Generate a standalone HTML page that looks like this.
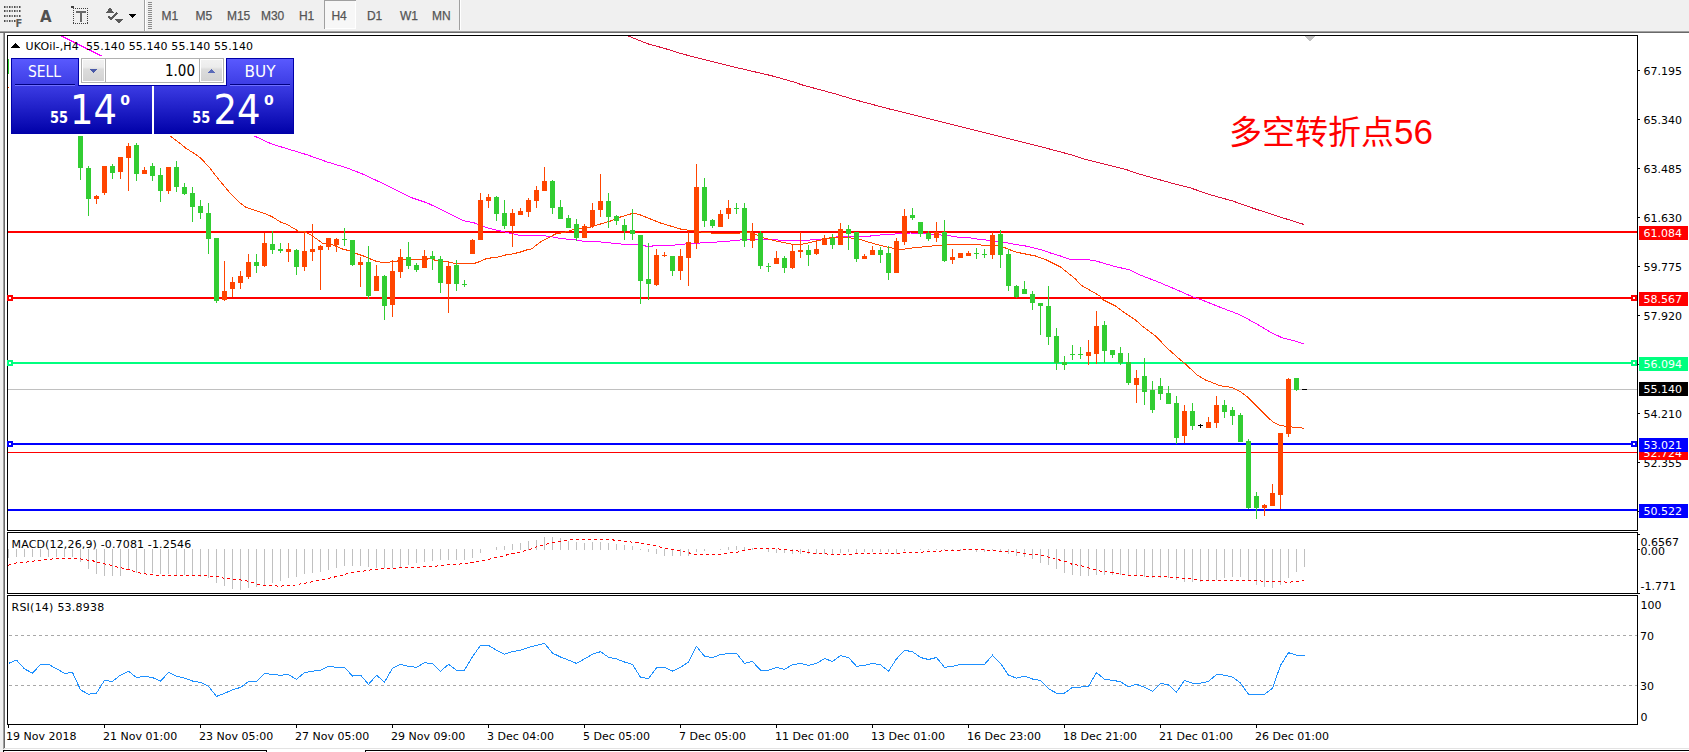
<!DOCTYPE html>
<html><head><meta charset="utf-8"><title>UKOil H4</title>
<style>html,body{margin:0;padding:0;background:#f0f0f0;overflow:hidden;width:1689px;height:752px}
svg{display:block} text{white-space:pre}</style></head>
<body><svg width="1689" height="752" viewBox="0 0 1689 752" shape-rendering="crispEdges">
<rect x="0" y="0" width="1689" height="752" fill="#f0f0f0"/>
<rect x="5" y="33" width="1684" height="715" fill="#ffffff"/>
<rect x="0" y="31" width="1689" height="1" fill="#a0a0a0"/>
<rect x="0" y="32" width="1689" height="1" fill="#696969"/>
<rect x="3" y="33" width="1" height="716" fill="#a0a0a0"/>
<rect x="4" y="33" width="1" height="715" fill="#696969"/>
<rect x="4" y="748" width="1685" height="1" fill="#e3e3e3"/>
<rect x="5" y="749" width="1684" height="3" fill="#ffffff"/>
<rect x="3" y="750" width="264" height="1" fill="#000"/>
<rect x="266" y="750" width="1" height="2" fill="#000"/>
<rect x="3" y="750" width="1" height="2" fill="#000"/>
<rect x="365" y="750" width="1324" height="1" fill="#000"/>
<rect x="365" y="750" width="1" height="2" fill="#000"/>
<rect x="144" y="0" width="1" height="31" fill="#a0a0a0"/>
<rect x="145" y="0" width="1" height="31" fill="#ffffff"/>
<rect x="459" y="0" width="1" height="30" fill="#a0a0a0"/>
<rect x="460" y="0" width="1" height="30" fill="#ffffff"/>
<rect x="148" y="2" width="4" height="1" fill="#8c8c8c"/>
<rect x="148" y="4" width="4" height="1" fill="#8c8c8c"/>
<rect x="148" y="6" width="4" height="1" fill="#8c8c8c"/>
<rect x="148" y="8" width="4" height="1" fill="#8c8c8c"/>
<rect x="148" y="10" width="4" height="1" fill="#8c8c8c"/>
<rect x="148" y="12" width="4" height="1" fill="#8c8c8c"/>
<rect x="148" y="14" width="4" height="1" fill="#8c8c8c"/>
<rect x="148" y="16" width="4" height="1" fill="#8c8c8c"/>
<rect x="148" y="18" width="4" height="1" fill="#8c8c8c"/>
<rect x="148" y="20" width="4" height="1" fill="#8c8c8c"/>
<rect x="148" y="22" width="4" height="1" fill="#8c8c8c"/>
<rect x="148" y="24" width="4" height="1" fill="#8c8c8c"/>
<rect x="148" y="26" width="4" height="1" fill="#8c8c8c"/>
<rect x="148" y="28" width="4" height="1" fill="#8c8c8c"/>
<rect x="4" y="6" width="1.5" height="2" fill="#4a4a4a" shape-rendering="auto"/>
<rect x="6.5" y="6" width="1.5" height="2" fill="#7a7a7a" shape-rendering="auto"/>
<rect x="9" y="6" width="1.5" height="2" fill="#4a4a4a" shape-rendering="auto"/>
<rect x="11.5" y="6" width="1.5" height="2" fill="#7a7a7a" shape-rendering="auto"/>
<rect x="14" y="6" width="1.5" height="2" fill="#4a4a4a" shape-rendering="auto"/>
<rect x="16.5" y="6" width="1.5" height="2" fill="#7a7a7a" shape-rendering="auto"/>
<rect x="19" y="6" width="1.5" height="2" fill="#4a4a4a" shape-rendering="auto"/>
<rect x="4" y="10" width="1.5" height="2" fill="#4a4a4a" shape-rendering="auto"/>
<rect x="6.5" y="10" width="1.5" height="2" fill="#7a7a7a" shape-rendering="auto"/>
<rect x="9" y="10" width="1.5" height="2" fill="#4a4a4a" shape-rendering="auto"/>
<rect x="11.5" y="10" width="1.5" height="2" fill="#7a7a7a" shape-rendering="auto"/>
<rect x="14" y="10" width="1.5" height="2" fill="#4a4a4a" shape-rendering="auto"/>
<rect x="16.5" y="10" width="1.5" height="2" fill="#7a7a7a" shape-rendering="auto"/>
<rect x="19" y="10" width="1.5" height="2" fill="#4a4a4a" shape-rendering="auto"/>
<rect x="4" y="15" width="1.5" height="2" fill="#4a4a4a" shape-rendering="auto"/>
<rect x="6.5" y="15" width="1.5" height="2" fill="#7a7a7a" shape-rendering="auto"/>
<rect x="9" y="15" width="1.5" height="2" fill="#4a4a4a" shape-rendering="auto"/>
<rect x="11.5" y="15" width="1.5" height="2" fill="#7a7a7a" shape-rendering="auto"/>
<rect x="14" y="15" width="1.5" height="2" fill="#4a4a4a" shape-rendering="auto"/>
<rect x="16.5" y="15" width="1.5" height="2" fill="#7a7a7a" shape-rendering="auto"/>
<rect x="19" y="15" width="1.5" height="2" fill="#4a4a4a" shape-rendering="auto"/>
<rect x="4" y="20" width="1.5" height="2" fill="#4a4a4a" shape-rendering="auto"/>
<rect x="6.5" y="20" width="1.5" height="2" fill="#7a7a7a" shape-rendering="auto"/>
<rect x="9" y="20" width="1.5" height="2" fill="#4a4a4a" shape-rendering="auto"/>
<rect x="11.5" y="20" width="1.5" height="2" fill="#7a7a7a" shape-rendering="auto"/>
<rect x="14" y="20" width="1.5" height="2" fill="#4a4a4a" shape-rendering="auto"/>
<text x="15.5" y="26.5" font-size="10px" fill="#5a5a5a" font-family='"DejaVu Sans", sans-serif' font-weight="bold">F</text>
<text x="40" y="21.5" font-size="15px" fill="#505050" font-family='"DejaVu Sans", sans-serif' font-weight="bold">A</text>
<rect x="73" y="8" width="1" height="1" fill="#404040"/>
<rect x="73" y="23" width="1" height="1" fill="#404040"/>
<rect x="75" y="8" width="1" height="1" fill="#404040"/>
<rect x="75" y="23" width="1" height="1" fill="#404040"/>
<rect x="77" y="8" width="1" height="1" fill="#404040"/>
<rect x="77" y="23" width="1" height="1" fill="#404040"/>
<rect x="79" y="8" width="1" height="1" fill="#404040"/>
<rect x="79" y="23" width="1" height="1" fill="#404040"/>
<rect x="81" y="8" width="1" height="1" fill="#404040"/>
<rect x="81" y="23" width="1" height="1" fill="#404040"/>
<rect x="83" y="8" width="1" height="1" fill="#404040"/>
<rect x="83" y="23" width="1" height="1" fill="#404040"/>
<rect x="85" y="8" width="1" height="1" fill="#404040"/>
<rect x="85" y="23" width="1" height="1" fill="#404040"/>
<rect x="87" y="8" width="1" height="1" fill="#404040"/>
<rect x="87" y="23" width="1" height="1" fill="#404040"/>
<rect x="73" y="8" width="1" height="1" fill="#404040"/>
<rect x="87" y="8" width="1" height="1" fill="#404040"/>
<rect x="73" y="10" width="1" height="1" fill="#404040"/>
<rect x="87" y="10" width="1" height="1" fill="#404040"/>
<rect x="73" y="12" width="1" height="1" fill="#404040"/>
<rect x="87" y="12" width="1" height="1" fill="#404040"/>
<rect x="73" y="14" width="1" height="1" fill="#404040"/>
<rect x="87" y="14" width="1" height="1" fill="#404040"/>
<rect x="73" y="16" width="1" height="1" fill="#404040"/>
<rect x="87" y="16" width="1" height="1" fill="#404040"/>
<rect x="73" y="18" width="1" height="1" fill="#404040"/>
<rect x="87" y="18" width="1" height="1" fill="#404040"/>
<rect x="73" y="20" width="1" height="1" fill="#404040"/>
<rect x="87" y="20" width="1" height="1" fill="#404040"/>
<rect x="73" y="22" width="1" height="1" fill="#404040"/>
<rect x="87" y="22" width="1" height="1" fill="#404040"/>
<rect x="71" y="6" width="3" height="2" fill="#404040"/>
<rect x="76" y="11" width="10" height="2" fill="#6a6a6a"/>
<rect x="80" y="11" width="2" height="11" fill="#6a6a6a"/>
<path d="M105.5 13 L110 7.5 L114.5 13 Z" fill="#5a5a5a"/>
<path d="M114.5 18.5 L123.5 18.5 L119 24 Z" fill="#5a5a5a"/>
<path d="M108.5 16.5 L111 19 L117 13" fill="none" stroke="#5a5a5a" stroke-width="1.6"/>
<path d="M128.5 14 L136 14 L132.25 18 Z" fill="#000"/>
<rect x="324" y="0" width="32" height="29" fill="#f7f7f7"/>
<rect x="324" y="0" width="1" height="29" fill="#a0a0a0"/>
<rect x="324" y="0" width="32" height="1" fill="#a0a0a0"/>
<rect x="355" y="1" width="1" height="28" fill="#ffffff"/>
<rect x="325" y="28" width="31" height="1" fill="#ffffff"/>
<text x="161.4" y="20" font-size="12px" fill="#555555" font-family='"Liberation Sans", sans-serif' stroke="#555555" stroke-width="0.25">M1</text>
<text x="195.4" y="20" font-size="12px" fill="#555555" font-family='"Liberation Sans", sans-serif' stroke="#555555" stroke-width="0.25">M5</text>
<text x="226.9" y="20" font-size="12px" fill="#555555" font-family='"Liberation Sans", sans-serif' stroke="#555555" stroke-width="0.25">M15</text>
<text x="260.9" y="20" font-size="12px" fill="#555555" font-family='"Liberation Sans", sans-serif' stroke="#555555" stroke-width="0.25">M30</text>
<text x="298.9" y="20" font-size="12px" fill="#555555" font-family='"Liberation Sans", sans-serif' stroke="#555555" stroke-width="0.25">H1</text>
<text x="331.4" y="20" font-size="12px" fill="#555555" font-family='"Liberation Sans", sans-serif' stroke="#555555" stroke-width="0.25">H4</text>
<text x="366.9" y="20" font-size="12px" fill="#555555" font-family='"Liberation Sans", sans-serif' stroke="#555555" stroke-width="0.25">D1</text>
<text x="399.9" y="20" font-size="12px" fill="#555555" font-family='"Liberation Sans", sans-serif' stroke="#555555" stroke-width="0.25">W1</text>
<text x="431.9" y="20" font-size="12px" fill="#555555" font-family='"Liberation Sans", sans-serif' stroke="#555555" stroke-width="0.25">MN</text>
<rect x="7" y="35" width="1631" height="1" fill="#000"/>
<rect x="7" y="530" width="1631" height="1" fill="#000"/>
<rect x="7" y="35" width="1" height="496" fill="#000"/>
<rect x="1637" y="35" width="1" height="496" fill="#000"/>
<rect x="7" y="532" width="1631" height="1" fill="#000"/>
<rect x="7" y="593" width="1631" height="1" fill="#000"/>
<rect x="7" y="532" width="1" height="62" fill="#000"/>
<rect x="1637" y="532" width="1" height="62" fill="#000"/>
<rect x="7" y="595" width="1631" height="1" fill="#000"/>
<rect x="7" y="724" width="1631" height="1" fill="#000"/>
<rect x="7" y="595" width="1" height="130" fill="#000"/>
<rect x="1637" y="595" width="1" height="130" fill="#000"/>
<svg x="8" y="36" width="1629" height="494" overflow="hidden"><g transform="translate(-8,-36)">
<rect x="8" y="231" width="1629" height="2" fill="#ff0000"/>
<rect x="8" y="297" width="1629" height="2" fill="#ff0000"/>
<rect x="8" y="362" width="1629" height="2" fill="#00ff7f"/>
<rect x="8" y="389" width="1629" height="1" fill="#c0c0c0"/>
<rect x="8" y="443" width="1629" height="2" fill="#0000ff"/>
<rect x="8" y="452" width="1629" height="1" fill="#ff0000"/>
<rect x="8" y="509" width="1629" height="2" fill="#0000ff"/>
<g shape-rendering="crispEdges">
<polyline points="627.2,35.6 647.4,43.7 664.5,48.4 681.5,53.7 707.1,60.3 739.1,68.2 771.1,75.6 792.4,81.6 803.1,85.2 835.0,93.8 856.4,100.2 888.3,108.7 920.3,116.6 955.5,125.3 998.1,136.0 1040.8,146.7 1072.8,155.2 1083.4,158.8 1126.1,169.5 1136.7,173.3 1168.7,182.3 1190.0,187.8 1211.4,195.1 1232.7,201.0 1254.0,208.5 1275.3,215.5 1304.1,224.5" fill="none" stroke="#dc143c" stroke-width="1"/>
<polyline points="61.5,36.0 104.5,57.5" fill="none" stroke="#ff00ff" stroke-width="1"/>
<polyline points="240.5,129.0 254.5,136.1 271.6,144.0 287.3,148.8 306.8,154.7 326.4,161.7 345.9,167.6 361.5,173.5 379.1,181.7 394.7,189.5 410.4,197.3 428.0,203.2 447.5,212.9 463.1,220.7 474.5,223.0 480.5,225.5 486.5,227.6 500.5,231.0 520.5,235.5 540.5,235.5 550.5,236.5 560.5,238.5 575.5,240.0 585.5,241.5 600.5,242.0 620.5,244.0 637.5,244.5 645.5,246.0 652.5,246.0 660.5,245.5 675.5,245.0 690.5,243.5 710.5,242.5 730.5,241.0 745.5,239.5 765.5,239.5 790.5,240.5 810.5,240.0 820.5,239.5 830.5,238.5 840.5,236.0 870.5,236.0 880.5,235.0 895.5,234.0 910.5,233.0 925.5,233.5 940.5,235.0 950.5,236.0 960.5,237.5 970.5,238.0 980.5,239.5 990.5,240.5 1005.5,242.5 1015.5,244.5 1025.5,246.0 1040.5,249.5 1050.5,253.0 1060.5,256.0 1070.5,259.5 1080.5,259.5 1093.3,260.2 1103.2,263.1 1116.0,266.8 1128.8,269.6 1141.6,275.6 1160.0,282.7 1179.9,291.2 1192.7,296.9 1201.2,299.7 1222.5,308.2 1239.6,314.6 1256.6,323.9 1270.8,332.4 1282.2,337.8 1293.6,340.6 1304.2,344.2" fill="none" stroke="#ff00ff" stroke-width="1"/>
<polyline points="170.0,136.0 180.5,143.7 185.7,148.1 195.5,154.3 200.5,158.0 209.1,167.0 218.9,179.7 228.7,191.4 240.4,203.2 245.5,207.0 252.1,209.4 261.9,212.5 271.6,216.4 280.5,222.0 287.3,224.6 299.0,231.5 305.5,232.0 312.5,236.0 322.5,243.2 327.5,243.0 335.5,246.0 342.5,249.0 350.5,251.0 357.5,254.0 363.5,256.0 370.5,259.0 375.5,261.0 382.5,262.5 388.5,262.5 393.5,261.0 397.5,261.0 405.5,259.0 412.5,259.0 420.5,259.0 427.5,259.0 430.5,258.0 435.5,260.5 440.5,261.0 445.5,261.0 450.5,262.5 455.5,263.5 460.5,263.5 472.5,264.0 478.5,262.0 485.5,259.0 490.5,258.0 498.5,257.0 505.5,255.0 512.5,254.0 520.5,252.0 526.5,250.0 531.5,249.0 540.5,242.0 555.5,234.0 565.5,232.0 575.5,229.0 585.5,228.0 590.5,227.0 600.5,224.0 610.5,221.0 620.5,217.0 630.5,214.0 635.5,213.5 640.5,215.0 650.5,219.0 660.5,223.0 670.5,226.0 680.5,229.0 690.5,230.5 700.5,232.0 710.5,233.0 720.5,234.0 730.5,233.5 740.5,233.0 750.5,232.0 755.5,234.3 762.9,237.7 774.7,240.7 792.5,244.4 802.9,244.1 817.7,240.7 833.9,237.0 844.3,237.0 859.1,239.2 873.9,243.7 888.7,247.4 900.5,249.6 910.9,248.1 933.1,245.9 947.9,244.4 977.5,244.8 1000.5,246.0 1005.5,248.0 1015.5,252.0 1025.5,254.0 1035.5,256.0 1045.5,259.5 1050.5,262.0 1060.5,267.0 1065.5,271.0 1075.5,279.0 1080.5,284.8 1100.4,296.2 1103.5,300.0 1115.5,306.0 1123.1,311.8 1135.5,320.0 1143.0,326.7 1155.5,336.0 1168.5,349.4 1180.5,360.0 1185.5,364.0 1196.8,374.8 1205.5,380.0 1213.4,383.1 1220.1,385.8 1231.7,387.4 1240.0,391.4 1246.7,396.4 1256.7,406.4 1266.6,416.3 1273.3,422.3 1279.9,425.3 1288.3,426.7 1304.5,428.2" fill="none" stroke="#ff4500" stroke-width="1"/>
</g>
<rect x="80" y="136" width="1" height="44" fill="#32cd32"/>
<rect x="78" y="136" width="5" height="32" fill="#32cd32"/>
<rect x="88" y="166" width="1" height="50" fill="#32cd32"/>
<rect x="86" y="168" width="5" height="31" fill="#32cd32"/>
<rect x="96" y="195" width="1" height="9" fill="#ff4500"/>
<rect x="94" y="196" width="5" height="3" fill="#ff4500"/>
<rect x="104" y="166" width="1" height="29" fill="#ff4500"/>
<rect x="102" y="166" width="5" height="27" fill="#ff4500"/>
<rect x="112" y="164" width="1" height="15" fill="#32cd32"/>
<rect x="110" y="166" width="5" height="7" fill="#32cd32"/>
<rect x="120" y="157" width="1" height="22" fill="#ff4500"/>
<rect x="118" y="157" width="5" height="15" fill="#ff4500"/>
<rect x="128" y="143" width="1" height="48" fill="#ff4500"/>
<rect x="126" y="146" width="5" height="12" fill="#ff4500"/>
<rect x="136" y="143" width="1" height="38" fill="#32cd32"/>
<rect x="134" y="145" width="5" height="29" fill="#32cd32"/>
<rect x="144" y="167" width="1" height="7" fill="#ff4500"/>
<rect x="142" y="170" width="5" height="4" fill="#ff4500"/>
<rect x="152" y="163" width="1" height="18" fill="#32cd32"/>
<rect x="150" y="166" width="5" height="10" fill="#32cd32"/>
<rect x="160" y="168" width="1" height="34" fill="#32cd32"/>
<rect x="158" y="175" width="5" height="16" fill="#32cd32"/>
<rect x="168" y="167" width="1" height="27" fill="#ff4500"/>
<rect x="166" y="167" width="5" height="24" fill="#ff4500"/>
<rect x="176" y="161" width="1" height="31" fill="#32cd32"/>
<rect x="174" y="167" width="5" height="20" fill="#32cd32"/>
<rect x="184" y="183" width="1" height="12" fill="#32cd32"/>
<rect x="182" y="187" width="5" height="7" fill="#32cd32"/>
<rect x="192" y="187" width="1" height="35" fill="#32cd32"/>
<rect x="190" y="193" width="5" height="14" fill="#32cd32"/>
<rect x="200" y="200" width="1" height="19" fill="#32cd32"/>
<rect x="198" y="206" width="5" height="7" fill="#32cd32"/>
<rect x="208" y="203" width="1" height="51" fill="#32cd32"/>
<rect x="206" y="213" width="5" height="26" fill="#32cd32"/>
<rect x="216" y="238" width="1" height="65" fill="#32cd32"/>
<rect x="214" y="238" width="5" height="63" fill="#32cd32"/>
<rect x="224" y="261" width="1" height="40" fill="#ff4500"/>
<rect x="222" y="291" width="5" height="9" fill="#ff4500"/>
<rect x="232" y="277" width="1" height="20" fill="#ff4500"/>
<rect x="230" y="282" width="5" height="7" fill="#ff4500"/>
<rect x="240" y="271" width="1" height="18" fill="#ff4500"/>
<rect x="238" y="276" width="5" height="7" fill="#ff4500"/>
<rect x="248" y="254" width="1" height="25" fill="#ff4500"/>
<rect x="246" y="262" width="5" height="15" fill="#ff4500"/>
<rect x="256" y="254" width="1" height="19" fill="#32cd32"/>
<rect x="254" y="262" width="5" height="4" fill="#32cd32"/>
<rect x="264" y="233" width="1" height="34" fill="#ff4500"/>
<rect x="262" y="243" width="5" height="23" fill="#ff4500"/>
<rect x="272" y="231" width="1" height="23" fill="#32cd32"/>
<rect x="270" y="244" width="5" height="6" fill="#32cd32"/>
<rect x="280" y="243" width="1" height="10" fill="#32cd32"/>
<rect x="278" y="249" width="5" height="2" fill="#32cd32"/>
<rect x="288" y="243" width="1" height="19" fill="#ff4500"/>
<rect x="286" y="249" width="5" height="3" fill="#ff4500"/>
<rect x="296" y="249" width="1" height="26" fill="#32cd32"/>
<rect x="294" y="250" width="5" height="17" fill="#32cd32"/>
<rect x="304" y="231" width="1" height="40" fill="#ff4500"/>
<rect x="302" y="251" width="5" height="16" fill="#ff4500"/>
<rect x="312" y="224" width="1" height="37" fill="#ff4500"/>
<rect x="310" y="249" width="5" height="3" fill="#ff4500"/>
<rect x="320" y="245" width="1" height="45" fill="#ff4500"/>
<rect x="318" y="246" width="5" height="4" fill="#ff4500"/>
<rect x="328" y="238" width="1" height="12" fill="#ff4500"/>
<rect x="326" y="238" width="5" height="9" fill="#ff4500"/>
<rect x="336" y="238" width="1" height="14" fill="#ff4500"/>
<rect x="334" y="239" width="5" height="6" fill="#ff4500"/>
<rect x="344" y="228" width="1" height="18" fill="#32cd32"/>
<rect x="342" y="239" width="5" height="1" fill="#32cd32"/>
<rect x="352" y="240" width="1" height="26" fill="#32cd32"/>
<rect x="350" y="240" width="5" height="25" fill="#32cd32"/>
<rect x="360" y="257" width="1" height="30" fill="#ff4500"/>
<rect x="358" y="262" width="5" height="3" fill="#ff4500"/>
<rect x="368" y="246" width="1" height="53" fill="#32cd32"/>
<rect x="366" y="262" width="5" height="34" fill="#32cd32"/>
<rect x="376" y="265" width="1" height="26" fill="#ff4500"/>
<rect x="374" y="276" width="5" height="15" fill="#ff4500"/>
<rect x="384" y="275" width="1" height="45" fill="#32cd32"/>
<rect x="382" y="276" width="5" height="30" fill="#32cd32"/>
<rect x="392" y="260" width="1" height="57" fill="#ff4500"/>
<rect x="390" y="271" width="5" height="34" fill="#ff4500"/>
<rect x="400" y="249" width="1" height="29" fill="#ff4500"/>
<rect x="398" y="257" width="5" height="15" fill="#ff4500"/>
<rect x="408" y="242" width="1" height="27" fill="#32cd32"/>
<rect x="406" y="257" width="5" height="9" fill="#32cd32"/>
<rect x="416" y="263" width="1" height="9" fill="#32cd32"/>
<rect x="414" y="265" width="5" height="5" fill="#32cd32"/>
<rect x="424" y="250" width="1" height="18" fill="#ff4500"/>
<rect x="422" y="256" width="5" height="12" fill="#ff4500"/>
<rect x="432" y="251" width="1" height="19" fill="#32cd32"/>
<rect x="430" y="256" width="5" height="3" fill="#32cd32"/>
<rect x="440" y="256" width="1" height="37" fill="#32cd32"/>
<rect x="438" y="259" width="5" height="24" fill="#32cd32"/>
<rect x="448" y="262" width="1" height="51" fill="#ff4500"/>
<rect x="446" y="266" width="5" height="18" fill="#ff4500"/>
<rect x="456" y="260" width="1" height="31" fill="#32cd32"/>
<rect x="454" y="265" width="5" height="19" fill="#32cd32"/>
<rect x="464" y="280" width="1" height="7" fill="#32cd32"/>
<rect x="462" y="284" width="5" height="1" fill="#32cd32"/>
<rect x="472" y="239" width="1" height="15" fill="#ff4500"/>
<rect x="470" y="240" width="5" height="14" fill="#ff4500"/>
<rect x="480" y="193" width="1" height="47" fill="#ff4500"/>
<rect x="478" y="200" width="5" height="40" fill="#ff4500"/>
<rect x="488" y="194" width="1" height="14" fill="#ff4500"/>
<rect x="486" y="197" width="5" height="4" fill="#ff4500"/>
<rect x="496" y="196" width="1" height="25" fill="#32cd32"/>
<rect x="494" y="197" width="5" height="17" fill="#32cd32"/>
<rect x="504" y="200" width="1" height="29" fill="#32cd32"/>
<rect x="502" y="213" width="5" height="13" fill="#32cd32"/>
<rect x="512" y="209" width="1" height="38" fill="#ff4500"/>
<rect x="510" y="213" width="5" height="13" fill="#ff4500"/>
<rect x="520" y="208" width="1" height="7" fill="#ff4500"/>
<rect x="518" y="211" width="5" height="4" fill="#ff4500"/>
<rect x="528" y="198" width="1" height="19" fill="#ff4500"/>
<rect x="526" y="200" width="5" height="12" fill="#ff4500"/>
<rect x="536" y="186" width="1" height="22" fill="#ff4500"/>
<rect x="534" y="190" width="5" height="11" fill="#ff4500"/>
<rect x="544" y="167" width="1" height="24" fill="#ff4500"/>
<rect x="542" y="181" width="5" height="10" fill="#ff4500"/>
<rect x="552" y="180" width="1" height="34" fill="#32cd32"/>
<rect x="550" y="181" width="5" height="27" fill="#32cd32"/>
<rect x="560" y="200" width="1" height="19" fill="#32cd32"/>
<rect x="558" y="207" width="5" height="12" fill="#32cd32"/>
<rect x="568" y="215" width="1" height="13" fill="#32cd32"/>
<rect x="566" y="218" width="5" height="10" fill="#32cd32"/>
<rect x="576" y="219" width="1" height="22" fill="#32cd32"/>
<rect x="574" y="224" width="5" height="14" fill="#32cd32"/>
<rect x="584" y="224" width="1" height="14" fill="#ff4500"/>
<rect x="582" y="226" width="5" height="12" fill="#ff4500"/>
<rect x="592" y="203" width="1" height="25" fill="#ff4500"/>
<rect x="590" y="210" width="5" height="16" fill="#ff4500"/>
<rect x="600" y="174" width="1" height="43" fill="#ff4500"/>
<rect x="598" y="201" width="5" height="9" fill="#ff4500"/>
<rect x="608" y="193" width="1" height="35" fill="#32cd32"/>
<rect x="606" y="201" width="5" height="16" fill="#32cd32"/>
<rect x="616" y="215" width="1" height="10" fill="#32cd32"/>
<rect x="614" y="216" width="5" height="5" fill="#32cd32"/>
<rect x="624" y="219" width="1" height="21" fill="#32cd32"/>
<rect x="622" y="225" width="5" height="6" fill="#32cd32"/>
<rect x="632" y="209" width="1" height="31" fill="#32cd32"/>
<rect x="630" y="230" width="5" height="4" fill="#32cd32"/>
<rect x="640" y="235" width="1" height="69" fill="#32cd32"/>
<rect x="638" y="235" width="5" height="46" fill="#32cd32"/>
<rect x="648" y="243" width="1" height="57" fill="#32cd32"/>
<rect x="646" y="279" width="5" height="5" fill="#32cd32"/>
<rect x="656" y="249" width="1" height="37" fill="#ff4500"/>
<rect x="654" y="255" width="5" height="30" fill="#ff4500"/>
<rect x="664" y="252" width="1" height="5" fill="#ff4500"/>
<rect x="662" y="255" width="5" height="1" fill="#ff4500"/>
<rect x="672" y="256" width="1" height="20" fill="#32cd32"/>
<rect x="670" y="256" width="5" height="15" fill="#32cd32"/>
<rect x="680" y="249" width="1" height="31" fill="#ff4500"/>
<rect x="678" y="256" width="5" height="15" fill="#ff4500"/>
<rect x="688" y="232" width="1" height="54" fill="#ff4500"/>
<rect x="686" y="242" width="5" height="16" fill="#ff4500"/>
<rect x="696" y="164" width="1" height="85" fill="#ff4500"/>
<rect x="694" y="187" width="5" height="56" fill="#ff4500"/>
<rect x="704" y="178" width="1" height="49" fill="#32cd32"/>
<rect x="702" y="187" width="5" height="34" fill="#32cd32"/>
<rect x="712" y="219" width="1" height="9" fill="#32cd32"/>
<rect x="710" y="220" width="5" height="6" fill="#32cd32"/>
<rect x="720" y="210" width="1" height="17" fill="#ff4500"/>
<rect x="718" y="214" width="5" height="13" fill="#ff4500"/>
<rect x="728" y="200" width="1" height="19" fill="#ff4500"/>
<rect x="726" y="208" width="5" height="6" fill="#ff4500"/>
<rect x="736" y="203" width="1" height="11" fill="#32cd32"/>
<rect x="734" y="208" width="5" height="1" fill="#32cd32"/>
<rect x="744" y="203" width="1" height="44" fill="#32cd32"/>
<rect x="742" y="208" width="5" height="33" fill="#32cd32"/>
<rect x="752" y="223" width="1" height="25" fill="#ff4500"/>
<rect x="750" y="233" width="5" height="8" fill="#ff4500"/>
<rect x="760" y="231" width="1" height="38" fill="#32cd32"/>
<rect x="758" y="233" width="5" height="33" fill="#32cd32"/>
<rect x="768" y="263" width="1" height="9" fill="#32cd32"/>
<rect x="766" y="266" width="5" height="1" fill="#32cd32"/>
<rect x="776" y="251" width="1" height="13" fill="#ff4500"/>
<rect x="774" y="258" width="5" height="6" fill="#ff4500"/>
<rect x="784" y="256" width="1" height="17" fill="#32cd32"/>
<rect x="782" y="258" width="5" height="10" fill="#32cd32"/>
<rect x="792" y="245" width="1" height="24" fill="#ff4500"/>
<rect x="790" y="251" width="5" height="17" fill="#ff4500"/>
<rect x="800" y="232" width="1" height="26" fill="#ff4500"/>
<rect x="798" y="250" width="5" height="2" fill="#ff4500"/>
<rect x="808" y="245" width="1" height="21" fill="#32cd32"/>
<rect x="806" y="250" width="5" height="5" fill="#32cd32"/>
<rect x="816" y="241" width="1" height="14" fill="#ff4500"/>
<rect x="814" y="249" width="5" height="5" fill="#ff4500"/>
<rect x="824" y="235" width="1" height="10" fill="#ff4500"/>
<rect x="822" y="238" width="5" height="7" fill="#ff4500"/>
<rect x="832" y="234" width="1" height="15" fill="#32cd32"/>
<rect x="830" y="238" width="5" height="7" fill="#32cd32"/>
<rect x="840" y="223" width="1" height="22" fill="#ff4500"/>
<rect x="838" y="229" width="5" height="16" fill="#ff4500"/>
<rect x="848" y="225" width="1" height="25" fill="#32cd32"/>
<rect x="846" y="229" width="5" height="5" fill="#32cd32"/>
<rect x="856" y="232" width="1" height="30" fill="#32cd32"/>
<rect x="854" y="232" width="5" height="27" fill="#32cd32"/>
<rect x="864" y="254" width="1" height="5" fill="#ff4500"/>
<rect x="862" y="256" width="5" height="3" fill="#ff4500"/>
<rect x="872" y="246" width="1" height="9" fill="#ff4500"/>
<rect x="870" y="250" width="5" height="5" fill="#ff4500"/>
<rect x="880" y="247" width="1" height="16" fill="#32cd32"/>
<rect x="878" y="250" width="5" height="5" fill="#32cd32"/>
<rect x="888" y="246" width="1" height="34" fill="#32cd32"/>
<rect x="886" y="253" width="5" height="20" fill="#32cd32"/>
<rect x="896" y="238" width="1" height="35" fill="#ff4500"/>
<rect x="894" y="241" width="5" height="32" fill="#ff4500"/>
<rect x="904" y="209" width="1" height="36" fill="#ff4500"/>
<rect x="902" y="216" width="5" height="26" fill="#ff4500"/>
<rect x="912" y="208" width="1" height="12" fill="#32cd32"/>
<rect x="910" y="215" width="5" height="3" fill="#32cd32"/>
<rect x="920" y="222" width="1" height="15" fill="#32cd32"/>
<rect x="918" y="222" width="5" height="12" fill="#32cd32"/>
<rect x="928" y="231" width="1" height="10" fill="#32cd32"/>
<rect x="926" y="233" width="5" height="6" fill="#32cd32"/>
<rect x="936" y="222" width="1" height="20" fill="#ff4500"/>
<rect x="934" y="232" width="5" height="6" fill="#ff4500"/>
<rect x="944" y="220" width="1" height="42" fill="#32cd32"/>
<rect x="942" y="232" width="5" height="29" fill="#32cd32"/>
<rect x="952" y="249" width="1" height="15" fill="#ff4500"/>
<rect x="950" y="257" width="5" height="3" fill="#ff4500"/>
<rect x="960" y="253" width="1" height="5" fill="#ff4500"/>
<rect x="958" y="253" width="5" height="5" fill="#ff4500"/>
<rect x="968" y="251" width="1" height="5" fill="#ff4500"/>
<rect x="966" y="253" width="5" height="3" fill="#ff4500"/>
<rect x="976" y="248" width="1" height="11" fill="#32cd32"/>
<rect x="974" y="253" width="5" height="1" fill="#32cd32"/>
<rect x="984" y="249" width="1" height="9" fill="#32cd32"/>
<rect x="982" y="254" width="5" height="1" fill="#32cd32"/>
<rect x="992" y="232" width="1" height="27" fill="#ff4500"/>
<rect x="990" y="235" width="5" height="20" fill="#ff4500"/>
<rect x="1000" y="230" width="1" height="38" fill="#32cd32"/>
<rect x="998" y="234" width="5" height="21" fill="#32cd32"/>
<rect x="1008" y="249" width="1" height="42" fill="#32cd32"/>
<rect x="1006" y="254" width="5" height="32" fill="#32cd32"/>
<rect x="1016" y="285" width="1" height="13" fill="#32cd32"/>
<rect x="1014" y="286" width="5" height="11" fill="#32cd32"/>
<rect x="1024" y="281" width="1" height="13" fill="#32cd32"/>
<rect x="1022" y="289" width="5" height="5" fill="#32cd32"/>
<rect x="1032" y="291" width="1" height="19" fill="#32cd32"/>
<rect x="1030" y="294" width="5" height="9" fill="#32cd32"/>
<rect x="1040" y="303" width="1" height="32" fill="#32cd32"/>
<rect x="1038" y="303" width="5" height="3" fill="#32cd32"/>
<rect x="1048" y="286" width="1" height="59" fill="#32cd32"/>
<rect x="1046" y="306" width="5" height="31" fill="#32cd32"/>
<rect x="1056" y="328" width="1" height="42" fill="#32cd32"/>
<rect x="1054" y="336" width="5" height="27" fill="#32cd32"/>
<rect x="1064" y="356" width="1" height="14" fill="#32cd32"/>
<rect x="1062" y="362" width="5" height="3" fill="#32cd32"/>
<rect x="1072" y="345" width="1" height="15" fill="#32cd32"/>
<rect x="1070" y="354" width="5" height="1" fill="#32cd32"/>
<rect x="1080" y="347" width="1" height="12" fill="#32cd32"/>
<rect x="1078" y="354" width="5" height="1" fill="#32cd32"/>
<rect x="1088" y="340" width="1" height="25" fill="#ff4500"/>
<rect x="1086" y="352" width="5" height="4" fill="#ff4500"/>
<rect x="1096" y="311" width="1" height="53" fill="#ff4500"/>
<rect x="1094" y="326" width="5" height="28" fill="#ff4500"/>
<rect x="1104" y="321" width="1" height="42" fill="#32cd32"/>
<rect x="1102" y="325" width="5" height="26" fill="#32cd32"/>
<rect x="1112" y="350" width="1" height="8" fill="#32cd32"/>
<rect x="1110" y="350" width="5" height="5" fill="#32cd32"/>
<rect x="1120" y="347" width="1" height="18" fill="#32cd32"/>
<rect x="1118" y="353" width="5" height="10" fill="#32cd32"/>
<rect x="1128" y="353" width="1" height="32" fill="#32cd32"/>
<rect x="1126" y="362" width="5" height="21" fill="#32cd32"/>
<rect x="1136" y="370" width="1" height="33" fill="#ff4500"/>
<rect x="1134" y="378" width="5" height="7" fill="#ff4500"/>
<rect x="1144" y="358" width="1" height="47" fill="#32cd32"/>
<rect x="1142" y="376" width="5" height="16" fill="#32cd32"/>
<rect x="1152" y="381" width="1" height="32" fill="#32cd32"/>
<rect x="1150" y="390" width="5" height="20" fill="#32cd32"/>
<rect x="1160" y="378" width="1" height="22" fill="#32cd32"/>
<rect x="1158" y="386" width="5" height="8" fill="#32cd32"/>
<rect x="1168" y="386" width="1" height="18" fill="#32cd32"/>
<rect x="1166" y="393" width="5" height="11" fill="#32cd32"/>
<rect x="1176" y="396" width="1" height="48" fill="#32cd32"/>
<rect x="1174" y="403" width="5" height="35" fill="#32cd32"/>
<rect x="1184" y="405" width="1" height="38" fill="#ff4500"/>
<rect x="1182" y="411" width="5" height="25" fill="#ff4500"/>
<rect x="1192" y="403" width="1" height="27" fill="#32cd32"/>
<rect x="1190" y="411" width="5" height="15" fill="#32cd32"/>
<rect x="1200" y="424" width="1" height="4" fill="#000000"/>
<rect x="1198" y="425" width="5" height="1" fill="#000000"/>
<rect x="1208" y="417" width="1" height="11" fill="#ff4500"/>
<rect x="1206" y="422" width="5" height="6" fill="#ff4500"/>
<rect x="1216" y="396" width="1" height="32" fill="#ff4500"/>
<rect x="1214" y="405" width="5" height="18" fill="#ff4500"/>
<rect x="1224" y="400" width="1" height="18" fill="#32cd32"/>
<rect x="1222" y="405" width="5" height="7" fill="#32cd32"/>
<rect x="1232" y="407" width="1" height="18" fill="#32cd32"/>
<rect x="1230" y="410" width="5" height="6" fill="#32cd32"/>
<rect x="1240" y="413" width="1" height="29" fill="#32cd32"/>
<rect x="1238" y="415" width="5" height="27" fill="#32cd32"/>
<rect x="1248" y="439" width="1" height="70" fill="#32cd32"/>
<rect x="1246" y="441" width="5" height="67" fill="#32cd32"/>
<rect x="1256" y="492" width="1" height="27" fill="#32cd32"/>
<rect x="1254" y="496" width="5" height="12" fill="#32cd32"/>
<rect x="1264" y="504" width="1" height="12" fill="#ff4500"/>
<rect x="1262" y="505" width="5" height="3" fill="#ff4500"/>
<rect x="1272" y="484" width="1" height="22" fill="#ff4500"/>
<rect x="1270" y="493" width="5" height="13" fill="#ff4500"/>
<rect x="1280" y="433" width="1" height="76" fill="#ff4500"/>
<rect x="1278" y="433" width="5" height="62" fill="#ff4500"/>
<rect x="1288" y="378" width="1" height="59" fill="#ff4500"/>
<rect x="1286" y="379" width="5" height="55" fill="#ff4500"/>
<rect x="1296" y="378" width="1" height="13" fill="#32cd32"/>
<rect x="1294" y="378" width="5" height="12" fill="#32cd32"/>
<rect x="1302" y="389" width="5" height="1" fill="#000"/>
<rect x="8" y="59" width="1" height="15" fill="#32cd32"/>
<rect x="8" y="87" width="2" height="1" fill="#ff4500"/>
<path d="M1304 36 L1315 36 L1309.5 41.5 Z" fill="#c0c0c0"/>
</g></svg>
<rect x="7" y="295" width="6" height="6" fill="#ff0000"/>
<rect x="9" y="297" width="2" height="2" fill="#ffffff"/>
<rect x="1631" y="295" width="6" height="6" fill="#ff0000"/>
<rect x="1633" y="297" width="2" height="2" fill="#ffffff"/>
<rect x="7" y="360" width="6" height="6" fill="#00ff7f"/>
<rect x="9" y="362" width="2" height="2" fill="#ffffff"/>
<rect x="1631" y="360" width="6" height="6" fill="#00ff7f"/>
<rect x="1633" y="362" width="2" height="2" fill="#ffffff"/>
<rect x="7" y="441" width="6" height="6" fill="#0000ff"/>
<rect x="9" y="443" width="2" height="2" fill="#ffffff"/>
<rect x="1631" y="441" width="6" height="6" fill="#0000ff"/>
<rect x="1633" y="443" width="2" height="2" fill="#ffffff"/>
<path d="M11 48 L15.5 43 L20 48 Z" fill="#000"/>
<text x="25.6" y="50" font-size="11px" fill="#000" font-family='"DejaVu Sans", "Liberation Sans", sans-serif' textLength="227.4" lengthAdjust="spacing">UKOil-,H4&#160;&#160;55.140 55.140 55.140 55.140</text>
<defs><linearGradient id="bg" x1="0" y1="58" x2="0" y2="134" gradientUnits="userSpaceOnUse"><stop offset="0" stop-color="#5a5aff"/><stop offset="0.36" stop-color="#3c3ce4"/><stop offset="1" stop-color="#0000a8"/></linearGradient></defs>
<rect x="9" y="56" width="287" height="80" fill="#ffffff"/>
<rect x="11" y="58" width="283" height="76" fill="url(#bg)"/>
<rect x="11" y="58" width="283" height="1" fill="#0000a8"/>
<rect x="11" y="58" width="1" height="76" fill="#0000a8"/>
<rect x="293" y="58" width="1" height="76" fill="#0000a8"/>
<rect x="11" y="133" width="283" height="1" fill="#0000a8"/>
<rect x="79" y="58" width="147" height="27" fill="#ffffff"/>
<rect x="78" y="58" width="1" height="28" fill="#0000a8"/>
<rect x="226" y="58" width="1" height="28" fill="#0000a8"/>
<rect x="78" y="85" width="149" height="1" fill="#0000a8"/>
<rect x="152" y="86" width="2" height="48" fill="#ffffff"/>
<rect x="15" y="84" width="60" height="1" fill="#000080"/>
<rect x="15" y="85" width="60" height="1" fill="#7070ff"/>
<rect x="230" y="84" width="60" height="1" fill="#000080"/>
<rect x="230" y="85" width="60" height="1" fill="#7070ff"/>
<defs><linearGradient id="sp" x1="0" y1="59" x2="0" y2="82" gradientUnits="userSpaceOnUse"><stop offset="0" stop-color="#f2f2f2"/><stop offset="0.35" stop-color="#ececec"/><stop offset="0.45" stop-color="#dcdcdc"/><stop offset="1" stop-color="#d2d2d2"/></linearGradient></defs>
<rect x="81" y="58" width="143" height="1" fill="#b0b0b0"/>
<rect x="81" y="82" width="143" height="1" fill="#b0b0b0"/>
<rect x="81" y="58" width="1" height="25" fill="#b0b0b0"/>
<rect x="223" y="58" width="1" height="25" fill="#b0b0b0"/>
<rect x="105" y="58" width="1" height="25" fill="#b0b0b0"/>
<rect x="199" y="58" width="1" height="25" fill="#b0b0b0"/>
<rect x="83" y="60" width="21" height="21" fill="url(#sp)"/>
<rect x="201" y="60" width="21" height="21" fill="url(#sp)"/>
<path d="M89.5 69 L97.5 69 L93.5 73.5 Z" fill="#4a5aa8"/>
<path d="M207.5 73 L215.5 73 L211.5 68.5 Z" fill="#5a6ab8"/>
<text x="165" y="76" font-size="15px" fill="#000" font-family='"DejaVu Sans", "Liberation Sans", sans-serif' textLength="30" lengthAdjust="spacingAndGlyphs">1.00</text>
<text x="28" y="77" font-size="15px" fill="#fff" font-family='"DejaVu Sans", "Liberation Sans", sans-serif' textLength="33" lengthAdjust="spacingAndGlyphs">SELL</text>
<text x="244.5" y="77" font-size="15px" fill="#fff" font-family='"DejaVu Sans", "Liberation Sans", sans-serif' textLength="31" lengthAdjust="spacingAndGlyphs">BUY</text>
<text x="50" y="123.2" font-size="15px" fill="#fff" font-family='"DejaVu Sans", sans-serif' font-weight="bold" textLength="18" lengthAdjust="spacingAndGlyphs">55</text>
<text x="70" y="123.5" font-size="41px" fill="#fff" font-family='"DejaVu Sans", sans-serif' textLength="47" lengthAdjust="spacingAndGlyphs">14</text>
<text x="120.2" y="105" font-size="14px" fill="#fff" font-family='"DejaVu Sans", sans-serif' font-weight="bold">0</text>
<text x="192.3" y="123.2" font-size="15px" fill="#fff" font-family='"DejaVu Sans", sans-serif' font-weight="bold" textLength="18" lengthAdjust="spacingAndGlyphs">55</text>
<text x="213.5" y="123.5" font-size="41px" fill="#fff" font-family='"DejaVu Sans", sans-serif' textLength="47.1" lengthAdjust="spacingAndGlyphs">24</text>
<text x="263.9" y="105" font-size="14px" fill="#fff" font-family='"DejaVu Sans", sans-serif' font-weight="bold">0</text>
<text x="1229" y="143.5" font-size="33px" fill="#ff0000" font-family='"Liberation Sans", "Noto Sans CJK SC", sans-serif'>多空转折点<tspan font-size="35px">56</tspan></text>
<rect x="1638" y="70" width="2" height="1" fill="#000"/>
<text x="1643.5" y="74.5" font-size="11px" fill="#000" font-family='"DejaVu Sans", "Liberation Sans", sans-serif'>67.195</text>
<rect x="1638" y="119" width="2" height="1" fill="#000"/>
<text x="1643.5" y="123.5" font-size="11px" fill="#000" font-family='"DejaVu Sans", "Liberation Sans", sans-serif'>65.340</text>
<rect x="1638" y="168" width="2" height="1" fill="#000"/>
<text x="1643.5" y="172.5" font-size="11px" fill="#000" font-family='"DejaVu Sans", "Liberation Sans", sans-serif'>63.485</text>
<rect x="1638" y="217" width="2" height="1" fill="#000"/>
<text x="1643.5" y="221.5" font-size="11px" fill="#000" font-family='"DejaVu Sans", "Liberation Sans", sans-serif'>61.630</text>
<rect x="1638" y="266" width="2" height="1" fill="#000"/>
<text x="1643.5" y="270.5" font-size="11px" fill="#000" font-family='"DejaVu Sans", "Liberation Sans", sans-serif'>59.775</text>
<rect x="1638" y="315" width="2" height="1" fill="#000"/>
<text x="1643.5" y="319.5" font-size="11px" fill="#000" font-family='"DejaVu Sans", "Liberation Sans", sans-serif'>57.920</text>
<rect x="1638" y="364" width="2" height="1" fill="#000"/>
<text x="1643.5" y="368.5" font-size="11px" fill="#000" font-family='"DejaVu Sans", "Liberation Sans", sans-serif'>56.065</text>
<rect x="1638" y="413" width="2" height="1" fill="#000"/>
<text x="1643.5" y="417.5" font-size="11px" fill="#000" font-family='"DejaVu Sans", "Liberation Sans", sans-serif'>54.210</text>
<rect x="1638" y="462" width="2" height="1" fill="#000"/>
<text x="1643.5" y="466.5" font-size="11px" fill="#000" font-family='"DejaVu Sans", "Liberation Sans", sans-serif'>52.355</text>
<rect x="1638" y="511" width="2" height="1" fill="#000"/>
<text x="1643.5" y="515.5" font-size="11px" fill="#000" font-family='"DejaVu Sans", "Liberation Sans", sans-serif'>50.500</text>
<rect x="1639" y="226" width="49" height="14" fill="#ff0000"/>
<text x="1643.5" y="237" font-size="11px" fill="#fff" font-family='"DejaVu Sans", "Liberation Sans", sans-serif'>61.084</text>
<rect x="1639" y="292" width="49" height="14" fill="#ff0000"/>
<text x="1643.5" y="303" font-size="11px" fill="#fff" font-family='"DejaVu Sans", "Liberation Sans", sans-serif'>58.567</text>
<rect x="1639" y="357" width="49" height="14" fill="#00ff7f"/>
<text x="1643.5" y="368" font-size="11px" fill="#fff" font-family='"DejaVu Sans", "Liberation Sans", sans-serif'>56.094</text>
<rect x="1639" y="382" width="49" height="14" fill="#000000"/>
<text x="1643.5" y="393" font-size="11px" fill="#fff" font-family='"DejaVu Sans", "Liberation Sans", sans-serif'>55.140</text>
<rect x="1639" y="446" width="49" height="14" fill="#ff0000"/>
<text x="1643.5" y="457" font-size="11px" fill="#fff" font-family='"DejaVu Sans", "Liberation Sans", sans-serif'>52.724</text>
<rect x="1639" y="438" width="49" height="14" fill="#0000ff"/>
<text x="1643.5" y="449" font-size="11px" fill="#fff" font-family='"DejaVu Sans", "Liberation Sans", sans-serif'>53.021</text>
<rect x="1639" y="504" width="49" height="14" fill="#0000ff"/>
<text x="1643.5" y="515" font-size="11px" fill="#fff" font-family='"DejaVu Sans", "Liberation Sans", sans-serif'>50.522</text>
<rect x="8" y="549" width="1" height="9" fill="#c0c0c0"/>
<rect x="16" y="549" width="1" height="8" fill="#c0c0c0"/>
<rect x="24" y="549" width="1" height="8" fill="#c0c0c0"/>
<rect x="32" y="549" width="1" height="8" fill="#c0c0c0"/>
<rect x="40" y="549" width="1" height="8" fill="#c0c0c0"/>
<rect x="48" y="549" width="1" height="8" fill="#c0c0c0"/>
<rect x="56" y="549" width="1" height="8" fill="#c0c0c0"/>
<rect x="64" y="549" width="1" height="8" fill="#c0c0c0"/>
<rect x="72" y="549" width="1" height="8" fill="#c0c0c0"/>
<rect x="80" y="549" width="1" height="13" fill="#c0c0c0"/>
<rect x="88" y="549" width="1" height="20" fill="#c0c0c0"/>
<rect x="96" y="549" width="1" height="25" fill="#c0c0c0"/>
<rect x="104" y="549" width="1" height="27" fill="#c0c0c0"/>
<rect x="112" y="549" width="1" height="27" fill="#c0c0c0"/>
<rect x="120" y="549" width="1" height="27" fill="#c0c0c0"/>
<rect x="128" y="549" width="1" height="21" fill="#c0c0c0"/>
<rect x="136" y="549" width="1" height="24" fill="#c0c0c0"/>
<rect x="144" y="549" width="1" height="24" fill="#c0c0c0"/>
<rect x="152" y="549" width="1" height="24" fill="#c0c0c0"/>
<rect x="160" y="549" width="1" height="25" fill="#c0c0c0"/>
<rect x="168" y="549" width="1" height="25" fill="#c0c0c0"/>
<rect x="176" y="549" width="1" height="26" fill="#c0c0c0"/>
<rect x="184" y="549" width="1" height="26" fill="#c0c0c0"/>
<rect x="192" y="549" width="1" height="27" fill="#c0c0c0"/>
<rect x="200" y="549" width="1" height="28" fill="#c0c0c0"/>
<rect x="208" y="549" width="1" height="29" fill="#c0c0c0"/>
<rect x="216" y="549" width="1" height="34" fill="#c0c0c0"/>
<rect x="224" y="549" width="1" height="37" fill="#c0c0c0"/>
<rect x="232" y="549" width="1" height="40" fill="#c0c0c0"/>
<rect x="240" y="549" width="1" height="41" fill="#c0c0c0"/>
<rect x="248" y="549" width="1" height="39" fill="#c0c0c0"/>
<rect x="256" y="549" width="1" height="38" fill="#c0c0c0"/>
<rect x="264" y="549" width="1" height="36" fill="#c0c0c0"/>
<rect x="272" y="549" width="1" height="34" fill="#c0c0c0"/>
<rect x="280" y="549" width="1" height="32" fill="#c0c0c0"/>
<rect x="288" y="549" width="1" height="29" fill="#c0c0c0"/>
<rect x="296" y="549" width="1" height="28" fill="#c0c0c0"/>
<rect x="304" y="549" width="1" height="25" fill="#c0c0c0"/>
<rect x="312" y="549" width="1" height="24" fill="#c0c0c0"/>
<rect x="320" y="549" width="1" height="23" fill="#c0c0c0"/>
<rect x="328" y="549" width="1" height="21" fill="#c0c0c0"/>
<rect x="336" y="549" width="1" height="19" fill="#c0c0c0"/>
<rect x="344" y="549" width="1" height="17" fill="#c0c0c0"/>
<rect x="352" y="549" width="1" height="17" fill="#c0c0c0"/>
<rect x="360" y="549" width="1" height="17" fill="#c0c0c0"/>
<rect x="368" y="549" width="1" height="18" fill="#c0c0c0"/>
<rect x="376" y="549" width="1" height="19" fill="#c0c0c0"/>
<rect x="384" y="549" width="1" height="19" fill="#c0c0c0"/>
<rect x="392" y="549" width="1" height="19" fill="#c0c0c0"/>
<rect x="400" y="549" width="1" height="18" fill="#c0c0c0"/>
<rect x="408" y="549" width="1" height="16" fill="#c0c0c0"/>
<rect x="416" y="549" width="1" height="14" fill="#c0c0c0"/>
<rect x="424" y="549" width="1" height="13" fill="#c0c0c0"/>
<rect x="432" y="549" width="1" height="12" fill="#c0c0c0"/>
<rect x="440" y="549" width="1" height="11" fill="#c0c0c0"/>
<rect x="448" y="549" width="1" height="11" fill="#c0c0c0"/>
<rect x="456" y="549" width="1" height="11" fill="#c0c0c0"/>
<rect x="464" y="549" width="1" height="11" fill="#c0c0c0"/>
<rect x="472" y="549" width="1" height="9" fill="#c0c0c0"/>
<rect x="480" y="549" width="1" height="4" fill="#c0c0c0"/>
<rect x="496" y="547" width="1" height="3" fill="#c0c0c0"/>
<rect x="504" y="546" width="1" height="4" fill="#c0c0c0"/>
<rect x="512" y="544" width="1" height="6" fill="#c0c0c0"/>
<rect x="520" y="543" width="1" height="7" fill="#c0c0c0"/>
<rect x="528" y="541" width="1" height="9" fill="#c0c0c0"/>
<rect x="536" y="540" width="1" height="10" fill="#c0c0c0"/>
<rect x="544" y="537" width="1" height="13" fill="#c0c0c0"/>
<rect x="552" y="537" width="1" height="13" fill="#c0c0c0"/>
<rect x="560" y="538" width="1" height="12" fill="#c0c0c0"/>
<rect x="568" y="541" width="1" height="9" fill="#c0c0c0"/>
<rect x="576" y="542" width="1" height="8" fill="#c0c0c0"/>
<rect x="584" y="543" width="1" height="7" fill="#c0c0c0"/>
<rect x="592" y="542" width="1" height="8" fill="#c0c0c0"/>
<rect x="600" y="542" width="1" height="8" fill="#c0c0c0"/>
<rect x="608" y="543" width="1" height="7" fill="#c0c0c0"/>
<rect x="616" y="544" width="1" height="6" fill="#c0c0c0"/>
<rect x="624" y="545" width="1" height="5" fill="#c0c0c0"/>
<rect x="632" y="546" width="1" height="4" fill="#c0c0c0"/>
<rect x="640" y="549" width="1" height="1" fill="#c0c0c0"/>
<rect x="648" y="549" width="1" height="3" fill="#c0c0c0"/>
<rect x="656" y="549" width="1" height="5" fill="#c0c0c0"/>
<rect x="664" y="549" width="1" height="7" fill="#c0c0c0"/>
<rect x="672" y="549" width="1" height="7" fill="#c0c0c0"/>
<rect x="680" y="549" width="1" height="7" fill="#c0c0c0"/>
<rect x="688" y="549" width="1" height="7" fill="#c0c0c0"/>
<rect x="696" y="549" width="1" height="3" fill="#c0c0c0"/>
<rect x="704" y="549" width="1" height="2" fill="#c0c0c0"/>
<rect x="720" y="549" width="1" height="1" fill="#c0c0c0"/>
<rect x="728" y="547" width="1" height="3" fill="#c0c0c0"/>
<rect x="736" y="546" width="1" height="4" fill="#c0c0c0"/>
<rect x="744" y="547" width="1" height="3" fill="#c0c0c0"/>
<rect x="752" y="548" width="1" height="2" fill="#c0c0c0"/>
<rect x="768" y="549" width="1" height="3" fill="#c0c0c0"/>
<rect x="776" y="549" width="1" height="4" fill="#c0c0c0"/>
<rect x="784" y="549" width="1" height="4" fill="#c0c0c0"/>
<rect x="792" y="549" width="1" height="5" fill="#c0c0c0"/>
<rect x="800" y="549" width="1" height="5" fill="#c0c0c0"/>
<rect x="808" y="549" width="1" height="5" fill="#c0c0c0"/>
<rect x="816" y="549" width="1" height="5" fill="#c0c0c0"/>
<rect x="824" y="549" width="1" height="5" fill="#c0c0c0"/>
<rect x="832" y="549" width="1" height="5" fill="#c0c0c0"/>
<rect x="840" y="549" width="1" height="4" fill="#c0c0c0"/>
<rect x="848" y="549" width="1" height="3" fill="#c0c0c0"/>
<rect x="856" y="549" width="1" height="4" fill="#c0c0c0"/>
<rect x="864" y="549" width="1" height="3" fill="#c0c0c0"/>
<rect x="872" y="549" width="1" height="3" fill="#c0c0c0"/>
<rect x="880" y="549" width="1" height="3" fill="#c0c0c0"/>
<rect x="888" y="549" width="1" height="3" fill="#c0c0c0"/>
<rect x="896" y="549" width="1" height="5" fill="#c0c0c0"/>
<rect x="904" y="549" width="1" height="2" fill="#c0c0c0"/>
<rect x="920" y="549" width="1" height="1" fill="#c0c0c0"/>
<rect x="928" y="549" width="1" height="1" fill="#c0c0c0"/>
<rect x="936" y="549" width="1" height="1" fill="#c0c0c0"/>
<rect x="944" y="549" width="1" height="1" fill="#c0c0c0"/>
<rect x="952" y="549" width="1" height="1" fill="#c0c0c0"/>
<rect x="960" y="549" width="1" height="2" fill="#c0c0c0"/>
<rect x="968" y="549" width="1" height="1" fill="#c0c0c0"/>
<rect x="976" y="549" width="1" height="3" fill="#c0c0c0"/>
<rect x="984" y="549" width="1" height="3" fill="#c0c0c0"/>
<rect x="992" y="549" width="1" height="1" fill="#c0c0c0"/>
<rect x="1000" y="549" width="1" height="3" fill="#c0c0c0"/>
<rect x="1008" y="549" width="1" height="5" fill="#c0c0c0"/>
<rect x="1016" y="549" width="1" height="7" fill="#c0c0c0"/>
<rect x="1024" y="549" width="1" height="8" fill="#c0c0c0"/>
<rect x="1032" y="549" width="1" height="10" fill="#c0c0c0"/>
<rect x="1040" y="549" width="1" height="14" fill="#c0c0c0"/>
<rect x="1048" y="549" width="1" height="16" fill="#c0c0c0"/>
<rect x="1056" y="549" width="1" height="20" fill="#c0c0c0"/>
<rect x="1064" y="549" width="1" height="24" fill="#c0c0c0"/>
<rect x="1072" y="549" width="1" height="26" fill="#c0c0c0"/>
<rect x="1080" y="549" width="1" height="27" fill="#c0c0c0"/>
<rect x="1088" y="549" width="1" height="27" fill="#c0c0c0"/>
<rect x="1096" y="549" width="1" height="26" fill="#c0c0c0"/>
<rect x="1104" y="549" width="1" height="26" fill="#c0c0c0"/>
<rect x="1112" y="549" width="1" height="26" fill="#c0c0c0"/>
<rect x="1120" y="549" width="1" height="26" fill="#c0c0c0"/>
<rect x="1128" y="549" width="1" height="27" fill="#c0c0c0"/>
<rect x="1136" y="549" width="1" height="27" fill="#c0c0c0"/>
<rect x="1144" y="549" width="1" height="28" fill="#c0c0c0"/>
<rect x="1152" y="549" width="1" height="29" fill="#c0c0c0"/>
<rect x="1160" y="549" width="1" height="29" fill="#c0c0c0"/>
<rect x="1168" y="549" width="1" height="29" fill="#c0c0c0"/>
<rect x="1176" y="549" width="1" height="31" fill="#c0c0c0"/>
<rect x="1184" y="549" width="1" height="33" fill="#c0c0c0"/>
<rect x="1192" y="549" width="1" height="33" fill="#c0c0c0"/>
<rect x="1200" y="549" width="1" height="33" fill="#c0c0c0"/>
<rect x="1208" y="549" width="1" height="32" fill="#c0c0c0"/>
<rect x="1216" y="549" width="1" height="31" fill="#c0c0c0"/>
<rect x="1224" y="549" width="1" height="29" fill="#c0c0c0"/>
<rect x="1232" y="549" width="1" height="28" fill="#c0c0c0"/>
<rect x="1240" y="549" width="1" height="28" fill="#c0c0c0"/>
<rect x="1248" y="549" width="1" height="31" fill="#c0c0c0"/>
<rect x="1256" y="549" width="1" height="36" fill="#c0c0c0"/>
<rect x="1264" y="549" width="1" height="38" fill="#c0c0c0"/>
<rect x="1272" y="549" width="1" height="39" fill="#c0c0c0"/>
<rect x="1280" y="549" width="1" height="36" fill="#c0c0c0"/>
<rect x="1288" y="549" width="1" height="29" fill="#c0c0c0"/>
<rect x="1296" y="549" width="1" height="23" fill="#c0c0c0"/>
<rect x="1304" y="549" width="1" height="18" fill="#c0c0c0"/>
<g shape-rendering="crispEdges">
<polyline points="8.4,565.2 17.2,562.7 28.9,561.9 40.7,560.0 52.4,559.0 64.1,558.6 73.9,558.0 80.7,559.0 89.5,560.4 95.4,561.3 101.2,563.3 109.1,564.7 114.9,566.6 122.7,568.2 130.5,570.1 138.4,572.7 146.2,574.0 161.8,576.0 177.4,575.8 193.1,575.0 208.7,576.0 216.5,576.2 224.3,578.3 240.0,579.9 249.7,581.5 257.5,584.2 263.4,585.4 279.0,586.1 290.8,585.8 298.6,584.2 310.3,582.2 322.0,579.9 332.5,577.5 345.2,574.4 350.0,572.5 363.7,571.1 369.6,570.1 381.3,568.6 395.0,568.2 408.7,567.6 424.3,566.8 436.0,566.2 441.9,565.2 457.5,564.3 467.3,563.3 477.0,561.9 484.9,560.4 492.7,558.4 502.4,556.1 512.2,553.5 522.0,551.6 529.8,549.6 537.6,546.3 545.4,544.3 553.2,542.4 561.1,541.2 572.8,539.6 584.5,539.4 604.0,539.4 619.7,540.4 623.6,541.2 633.3,542.2 643.1,543.7 652.9,545.1 656.5,546.3 663.3,547.7 669.2,549.0 675.0,550.2 680.9,551.2 687.7,552.5 693.6,554.1 702.4,554.5 714.1,554.5 722.9,554.1 729.7,553.1 737.6,552.1 741.5,551.2 747.3,549.8 753.2,549.0 763.0,548.2 772.7,548.2 780.5,549.2 788.4,549.6 792.3,550.6 800.1,551.2 805.9,552.1 813.8,553.1 821.6,553.5 831.4,554.5 843.1,554.5 850.9,554.1 860.7,553.3 870.4,553.1 890.0,553.1 897.8,553.1 909.5,552.5 921.2,552.1 932.9,551.6 940.8,551.0 948.6,550.2 958.4,550.2 964.2,549.8 972.0,549.4 980.5,549.6 988.3,550.6 1000.0,551.2 1009.8,551.6 1017.6,552.1 1023.5,553.1 1029.3,554.1 1039.1,554.9 1046.9,556.8 1054.7,558.4 1060.6,560.4 1066.5,561.9 1072.3,564.3 1080.1,565.4 1086.0,567.4 1091.9,568.6 1097.7,570.7 1107.5,572.1 1117.3,573.6 1125.1,574.4 1129.0,575.4 1136.8,575.4 1144.6,576.2 1156.3,576.2 1164.2,576.8 1173.9,577.5 1183.7,578.3 1191.5,579.1 1197.4,579.9 1205.2,580.3 1224.7,580.3 1234.5,580.3 1254.0,580.3 1261.9,581.1 1273.6,581.5 1281.4,581.8 1289.2,582.2 1297.0,581.5 1304.5,580.5" fill="none" stroke="#ff0000" stroke-width="1" stroke-dasharray="3,3"/>
</g>
<text x="11.5" y="548" font-size="11px" fill="#000" font-family='"DejaVu Sans", "Liberation Sans", sans-serif' textLength="179.7" lengthAdjust="spacing">MACD(12,26,9) -0.7081 -1.2546</text>
<rect x="1638" y="534" width="2" height="1" fill="#000"/>
<rect x="1638" y="549" width="2" height="1" fill="#000"/>
<rect x="1638" y="593" width="2" height="1" fill="#000"/>
<text x="1640.5" y="546" font-size="11px" fill="#000" font-family='"DejaVu Sans", "Liberation Sans", sans-serif'>0.6567</text>
<text x="1640.5" y="554.5" font-size="11px" fill="#000" font-family='"DejaVu Sans", "Liberation Sans", sans-serif'>0.00</text>
<text x="1640.5" y="590" font-size="11px" fill="#000" font-family='"DejaVu Sans", "Liberation Sans", sans-serif'>-1.771</text>
<line x1="9" y1="635.5" x2="1637" y2="635.5" stroke="#a8a8a8" stroke-width="1" stroke-dasharray="3,3" shape-rendering="crispEdges"/>
<line x1="9" y1="685.5" x2="1637" y2="685.5" stroke="#a8a8a8" stroke-width="1" stroke-dasharray="3,3" shape-rendering="crispEdges"/>
<g shape-rendering="crispEdges">
<polyline points="8.5,663.4 16.5,660.1 24.5,668.9 32.5,673.2 40.5,664.4 48.5,664.4 56.5,668.7 64.5,673.4 72.5,672.4 80.5,689.8 88.5,694.3 96.5,693.1 104.5,680.4 112.5,681.4 120.5,675.1 128.5,671.2 136.5,677.5 144.5,676.3 152.5,677.5 160.5,681.2 168.5,672.4 176.5,676.1 184.5,678.1 192.5,681.0 200.5,682.4 208.5,686.3 216.5,696.4 224.5,693.3 232.5,689.8 240.5,687.4 248.5,681.6 256.5,681.4 264.5,673.4 272.5,674.5 280.5,675.3 288.5,674.5 296.5,679.4 304.5,672.6 312.5,671.2 320.5,670.2 328.5,666.3 336.5,667.3 344.5,667.3 352.5,676.1 360.5,675.1 368.5,684.3 376.5,675.3 384.5,682.0 392.5,668.3 400.5,664.4 408.5,666.3 416.5,667.3 424.5,662.8 432.5,663.4 440.5,671.2 448.5,664.4 456.5,670.2 464.5,670.2 472.5,656.6 480.5,645.4 488.5,645.4 496.5,650.3 504.5,654.2 512.5,651.5 520.5,650.3 528.5,647.4 536.5,645.4 544.5,643.3 552.5,653.1 560.5,657.0 568.5,660.1 576.5,663.4 584.5,658.9 592.5,654.2 600.5,651.7 608.5,657.2 616.5,658.9 624.5,662.0 632.5,664.4 640.5,677.3 648.5,678.5 656.5,667.7 664.5,667.3 672.5,671.0 680.5,667.3 688.5,662.0 696.5,646.4 704.5,656.2 712.5,657.5 720.5,654.6 728.5,653.6 736.5,653.2 744.5,663.4 752.5,661.5 760.5,670.2 768.5,670.2 776.5,667.5 784.5,669.3 792.5,664.8 800.5,663.4 808.5,665.4 816.5,663.4 824.5,658.5 832.5,661.5 840.5,655.6 848.5,657.5 856.5,666.3 864.5,665.4 872.5,663.4 880.5,664.8 888.5,671.2 896.5,658.9 904.5,650.3 912.5,651.7 920.5,657.5 928.5,659.5 936.5,657.5 944.5,667.3 952.5,666.3 960.5,664.4 968.5,664.4 976.5,664.4 984.5,664.4 992.5,655.2 1000.5,663.4 1008.5,675.1 1016.5,678.1 1024.5,676.1 1032.5,679.0 1040.5,680.4 1048.5,688.8 1056.5,693.1 1064.5,693.1 1072.5,687.4 1080.5,687.1 1088.5,686.3 1096.5,672.6 1104.5,679.2 1112.5,680.4 1120.5,681.6 1128.5,686.9 1136.5,684.3 1144.5,687.2 1152.5,691.3 1160.5,683.3 1168.5,684.9 1176.5,692.1 1184.5,680.4 1192.5,683.1 1200.5,683.1 1208.5,681.4 1216.5,674.5 1224.5,675.1 1232.5,677.1 1240.5,683.0 1248.5,694.3 1256.5,694.3 1264.5,694.3 1272.5,688.2 1280.5,665.4 1288.5,652.7 1296.5,655.2 1304.5,655.2" fill="none" stroke="#1e90ff" stroke-width="1"/>
</g>
<text x="11.5" y="611" font-size="11px" fill="#000" font-family='"DejaVu Sans", "Liberation Sans", sans-serif' textLength="92.8" lengthAdjust="spacing">RSI(14) 53.8938</text>
<text x="1640.5" y="609" font-size="11px" fill="#000" font-family='"DejaVu Sans", "Liberation Sans", sans-serif'>100</text>
<text x="1640" y="640" font-size="11px" fill="#000" font-family='"DejaVu Sans", "Liberation Sans", sans-serif'>70</text>
<text x="1640" y="690" font-size="11px" fill="#000" font-family='"DejaVu Sans", "Liberation Sans", sans-serif'>30</text>
<text x="1640.5" y="721" font-size="11px" fill="#000" font-family='"DejaVu Sans", "Liberation Sans", sans-serif'>0</text>
<rect x="8" y="725" width="1" height="3" fill="#000"/>
<text x="6" y="740" font-size="11px" fill="#000" font-family='"DejaVu Sans", "Liberation Sans", sans-serif'>19 Nov 2018</text>
<rect x="104" y="725" width="1" height="3" fill="#000"/>
<text x="103" y="740" font-size="11px" fill="#000" font-family='"DejaVu Sans", "Liberation Sans", sans-serif'>21 Nov 01:00</text>
<rect x="200" y="725" width="1" height="3" fill="#000"/>
<text x="199" y="740" font-size="11px" fill="#000" font-family='"DejaVu Sans", "Liberation Sans", sans-serif'>23 Nov 05:00</text>
<rect x="296" y="725" width="1" height="3" fill="#000"/>
<text x="295" y="740" font-size="11px" fill="#000" font-family='"DejaVu Sans", "Liberation Sans", sans-serif'>27 Nov 05:00</text>
<rect x="392" y="725" width="1" height="3" fill="#000"/>
<text x="391" y="740" font-size="11px" fill="#000" font-family='"DejaVu Sans", "Liberation Sans", sans-serif'>29 Nov 09:00</text>
<rect x="488" y="725" width="1" height="3" fill="#000"/>
<text x="487" y="740" font-size="11px" fill="#000" font-family='"DejaVu Sans", "Liberation Sans", sans-serif'>3 Dec 04:00</text>
<rect x="584" y="725" width="1" height="3" fill="#000"/>
<text x="583" y="740" font-size="11px" fill="#000" font-family='"DejaVu Sans", "Liberation Sans", sans-serif'>5 Dec 05:00</text>
<rect x="680" y="725" width="1" height="3" fill="#000"/>
<text x="679" y="740" font-size="11px" fill="#000" font-family='"DejaVu Sans", "Liberation Sans", sans-serif'>7 Dec 05:00</text>
<rect x="776" y="725" width="1" height="3" fill="#000"/>
<text x="775" y="740" font-size="11px" fill="#000" font-family='"DejaVu Sans", "Liberation Sans", sans-serif'>11 Dec 01:00</text>
<rect x="872" y="725" width="1" height="3" fill="#000"/>
<text x="871" y="740" font-size="11px" fill="#000" font-family='"DejaVu Sans", "Liberation Sans", sans-serif'>13 Dec 01:00</text>
<rect x="968" y="725" width="1" height="3" fill="#000"/>
<text x="967" y="740" font-size="11px" fill="#000" font-family='"DejaVu Sans", "Liberation Sans", sans-serif'>16 Dec 23:00</text>
<rect x="1064" y="725" width="1" height="3" fill="#000"/>
<text x="1063" y="740" font-size="11px" fill="#000" font-family='"DejaVu Sans", "Liberation Sans", sans-serif'>18 Dec 21:00</text>
<rect x="1160" y="725" width="1" height="3" fill="#000"/>
<text x="1159" y="740" font-size="11px" fill="#000" font-family='"DejaVu Sans", "Liberation Sans", sans-serif'>21 Dec 01:00</text>
<rect x="1256" y="725" width="1" height="3" fill="#000"/>
<text x="1255" y="740" font-size="11px" fill="#000" font-family='"DejaVu Sans", "Liberation Sans", sans-serif'>26 Dec 01:00</text>
</svg></body></html>
